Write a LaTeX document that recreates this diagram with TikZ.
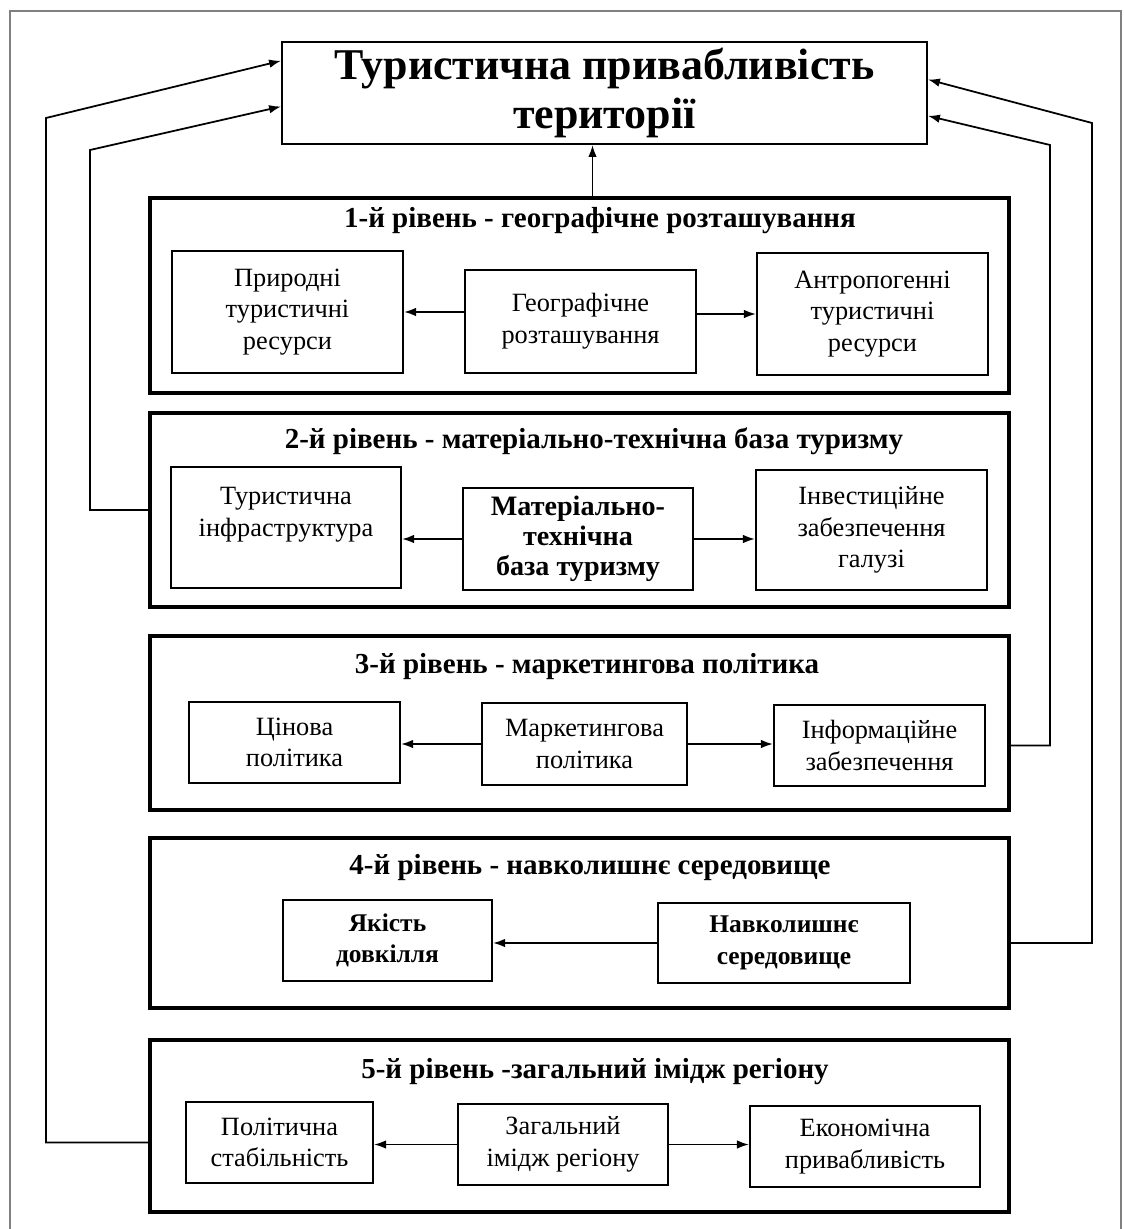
\documentclass[tikz,border=0pt]{standalone}
\usepackage{fontspec}
\setmainfont{Liberation Serif}
\usetikzlibrary{positioning,calc,arrows.meta}
\tikzset{>={Latex[length=2.4mm,width=1.7mm]}}

\begin{document}
\begin{tikzpicture}[
    x=0.02cm, y=-0.02cm,
    level/.style={draw, line width=2.4pt, minimum width=17.18cm},
    head/.style={font=\fontsize{16.5}{19}\selectfont\bfseries},
    item/.style={draw, line width=1.2pt, align=center, inner sep=2pt,
                 font=\fontsize{15}{18}\selectfont},
    link/.style={->, line width=1pt}
]
\useasboundingbox (0,0) rectangle (1124,1229);
\draw[gray, line width=0.8pt] (10,1229) -- (10,11) -- (1121,11) -- (1121,1229);

% top box
\node[draw, line width=1.1pt, minimum width=12.9cm, minimum height=2.04cm, align=center,
      font=\fontsize{25}{28}\selectfont\bfseries] (title) at (604.5,93)
      {Туристична привабливість\\території};

% level frames
\node[level, minimum height=3.9cm]  (lvl1) at (579.5,295.5) {};
\node[level, minimum height=3.88cm] (lvl2) at (579.5,510) {};
\node[level, minimum height=3.48cm] (lvl3) at (579.5,723) {};
\node[level, minimum height=3.4cm]  (lvl4) at (579.5,923) {};
\node[level, minimum height=3.44cm] (lvl5) at (579.5,1126) {};

\node[head] (h1) at (600,221)  {1-й рівень - географічне розташування};
\node[head] (h2) at (594,441)  {2-й рівень - матеріально-технічна база туризму};
\node[head] (h3) at (587,667)  {3-й рівень - маркетингова політика};
\node[head] (h4) at (590,868)  {4-й рівень - навколишнє середовище};
\node[head] (h5) at (595,1072) {5-й рівень -загальний імідж регіону};

% level 1
\node[item, minimum width=4.62cm, minimum height=2.44cm] (nat)  at (287.5,312) {Природні\\туристичні\\ресурси};
\node[item, minimum width=4.62cm, minimum height=2.06cm] (geo)  at (580.5,321.5) {Географічне\\розташування};
\node[item, minimum width=4.62cm, minimum height=2.44cm] (anth) at (872.5,314) {Антропогенні\\туристичні\\ресурси};

% level 2
\node[item, minimum width=4.6cm, minimum height=2.42cm] (infra) at (286,527.5) {Туристична\\інфраструктура\\\mbox{}};
\node[item, minimum width=4.6cm, minimum height=2.04cm, font=\fontsize{16}{17}\selectfont\bfseries] (mat) at (578,539) {Матеріально-\\технічна\\база туризму};
\node[item, minimum width=4.62cm, minimum height=2.4cm] (inv) at (871.5,530) {Інвестиційне\\забезпечення\\галузі};

% level 3
\node[item, minimum width=4.22cm, minimum height=1.62cm] (price) at (294.5,742.5) {Цінова\\політика};
\node[item, minimum width=4.1cm,  minimum height=1.64cm] (mark)  at (584.5,744) {Маркетингова\\політика};
\node[item, minimum width=4.22cm, minimum height=1.62cm] (info)  at (879.5,745.5) {Інформаційне\\забезпечення};

% level 4
\node[item, minimum width=4.18cm, minimum height=1.62cm, font=\fontsize{14.5}{18}\selectfont\bfseries] (qual) at (387.5,940.5) {Якість\\довкілля};
\node[item, minimum width=5.04cm, minimum height=1.6cm, font=\fontsize{14.5}{18}\selectfont\bfseries]  (env)  at (784,943) {Навколишнє\\середовище};

% level 5
\node[item, minimum width=3.74cm, minimum height=1.62cm] (pol)  at (279.5,1142.5) {Політична\\стабільність};
\node[item, minimum width=4.2cm,  minimum height=1.62cm] (img)  at (563,1144.5) {Загальний\\імідж регіону};
\node[item, minimum width=4.6cm,  minimum height=1.62cm] (econ) at (865,1146.5) {Економічна\\привабливість};

% arrows inside levels
\draw[link] (geo.west |- nat.east) -- (nat.east);
\draw[link] (geo.east |- anth.west) -- (anth.west);
\draw[link] (mat.west) -- (mat.west -| infra.east);
\draw[link] (mat.east) -- (mat.east -| inv.west);
\draw[link] (mark.west) -- (mark.west -| price.east);
\draw[link] (mark.east) -- (mark.east -| info.west);
\draw[link] (env.west) -- (env.west -| qual.east);
\draw[link] (img.west) -- (img.west -| pol.east);
\draw[link] (img.east) -- (img.east -| econ.west);

% feedback to the top box
\coordinate (lo) at (46,118);
\coordinate (li) at (90,150);
\coordinate (ri) at (1050,145);
\coordinate (ro) at (1092,123);
\draw[link] ([xshift=-2.4mm]title.south |- lvl1.north) -- ([xshift=-2.4mm]title.south);
\draw[link] (lvl5.west |- pol.west) -- (lo |- pol.west) -- (lo) -- ($(title.north west)!0.19!(title.south west)$);
\draw[link] (lvl2.west) -- (li |- lvl2.west) -- (li) -- ($(title.north west)!0.63!(title.south west)$);
\draw[link] (lvl3.east |- info.east) -- (ri |- info.east) -- (ri) -- ($(title.north east)!0.72!(title.south east)$);
\draw[link] (lvl4.east |- env.east) -- (ro |- env.east) -- (ro) -- ($(title.north east)!0.37!(title.south east)$);
\end{tikzpicture}
\end{document}
